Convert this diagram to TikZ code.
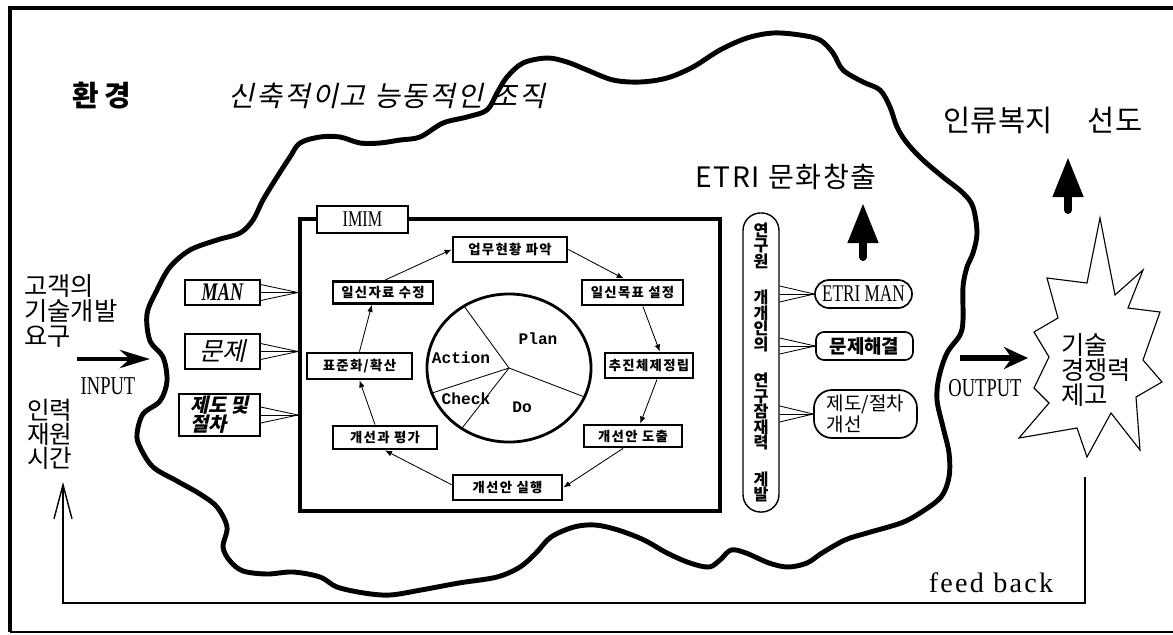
\documentclass[tikz,border=0pt]{standalone}
\usepackage{fontspec}
\setmainfont{Noto Sans CJK KR}
\newfontfamily\krslant{Noto Sans CJK KR}[FakeSlant=0.22]
\newfontfamily\condserif{Liberation Serif}[FakeStretch=0.72]
\newfontfamily\serifwide{Liberation Serif}
\newfontfamily\monofont{Liberation Mono}
\usetikzlibrary{arrows.meta,shapes.geometric}
\newcommand{\fanout}[2]{\foreach \dy in {-8,0,8} {\draw[line width=0.6pt] ([yshift=\dy*0.025cm]#1) -- (#2);}}

\begin{document}
\begin{tikzpicture}[x=0.025cm, y=-0.025cm,
    pdca/.style={draw, line width=2pt, inner sep=0pt, font=\fontsize{9.5}{10}\selectfont\bfseries\addfontfeature{LetterSpace=10}},
    inbox/.style={draw, line width=1pt, inner sep=0pt},
    outbox/.style={draw, line width=1.2pt, inner sep=0pt},
    pdcaword/.style={font=\monofont\bfseries\fontsize{11.5}{12}\selectfont},
    flow/.style={line width=0.6pt, -{Latex[length=5pt,width=4pt]}},
    bigup/.style={line width=0.2cm, line cap=round, -{Triangle[length=1cm,width=0.72cm]}}]
  \useasboundingbox (0,0) rectangle (1173,634);
  \draw[line width=2.8pt] (1173,8) -- (10,8) -- (10,632);
  \draw[line width=1.6pt] (10,632) -- (1173,632);
  \draw[line width=3.5pt] plot[smooth cycle, tension=0.55] coordinates {
    (230,561) (223,547) (227,527) (217,507) (200,494) (177,481) (153,467) (140,447)
    (137,434) (143,414) (160,401) (167,381) (163,357) (150,341) (147,314) (157,290)
    (170,267) (190,250) (217,240) (240,233) (253,220) (263,200) (277,177) (290,157)
    (300,143) (320,137) (340,137) (360,143) (380,143) (400,140) (420,137) (443,123)
    (467,117) (487,110) (497,93) (507,77) (523,63) (547,58) (567,62) (587,70)
    (613,80) (640,82) (667,78) (693,67) (720,50) (747,38) (773,33) (800,35)
    (820,40) (833,53) (843,70) (863,82) (880,90) (890,107) (897,127) (907,143)
    (923,160) (943,177) (963,193) (973,207) (977,233) (973,253) (967,267) (963,287)
    (963,320) (960,335) (947,353) (939,377) (937,400) (943,427) (949,453) (949,477)
    (941,497) (920,513) (901,523) (867,533) (845,540) (822,553) (807,563) (788,567)
    (769,563) (746,553) (731,550) (720,560) (709,567) (690,563) (667,553) (644,540)
    (618,530) (595,525) (574,527) (551,537) (536,553) (520,567) (497,577) (459,583)
    (421,590) (390,595) (364,593) (337,587) (320,577) (293,572) (267,574) (243,571)};

  \node[font=\fontsize{20.5}{22}\selectfont\bfseries\addfontfeature{LetterSpace=20}] (env) at (102,96) {환경};
  \node[font=\krslant\fontsize{20}{22}\selectfont\addfontfeature{LetterSpace=7}] (org) at (387,96) {신축적이고 능동적인 조직};
  \node[font=\fontsize{18}{18}\selectfont, align=left, anchor=west, inner sep=0pt] (demand) at (24,311) {고객의\\기술개발\\요구};
  \node[font=\fontsize{17.5}{17}\selectfont, align=left, anchor=west, inner sep=0pt] (resource) at (27,434) {인력\\재원\\시간};
  \node[font=\condserif\fontsize{18.3}{20}\selectfont] (inlabel) at (108,386) {INPUT};
  \node[font=\condserif\fontsize{18.3}{20}\selectfont] (outlabel) at (985,388) {OUTPUT};
  \node[font=\fontsize{21}{22}\selectfont] (welfare) at (1043,120) {인류복지\hspace{1.2em}선도};
  \node[font=\fontsize{20}{21}\selectfont\addfontfeature{LetterSpace=6}] (culture) at (786,177) {ETRI 문화창출};
  \node[font=\serifwide\fontsize{20}{22}\selectfont\addfontfeature{LetterSpace=8}] (fbtext) at (991,583) {feed back};

  \node[draw, line width=2.8pt, minimum width=10.5cm, minimum height=7.3cm] (imim) at (510,365) {};
  \node[draw, fill=white, line width=0.8pt, minimum width=2.275cm, minimum height=0.675cm, font=\condserif\fontsize{16}{18}\selectfont] (imimtag) at (362.5,219.5) {IMIM};

  \node[inbox, minimum width=1.875cm, minimum height=0.625cm, font=\condserif\bfseries\itshape\fontsize{18}{20}\selectfont] (man) at (222.5,292.5) {MAN};
  \node[inbox, minimum width=1.875cm, minimum height=0.875cm, font=\krslant\fontsize{18}{20}\selectfont] (problem) at (222.5,351.5) {문제};
  \node[inbox, minimum width=2.025cm, minimum height=1.05cm, align=left, font=\krslant\bfseries\fontsize{14}{13.5}\selectfont] (rules) at (219.5,415) {제도 및\\절차};
  \fanout{man.east}{imim.west |- man.east}
  \fanout{problem.east}{imim.west |- problem.east}
  \fanout{rules.east}{imim.west |- rules.east}

  \node[pdca, minimum width=2.5cm, minimum height=0.55cm] (revise) at (383,292.5) {일신자료 수정};
  \node[pdca, minimum width=2.85cm, minimum height=0.625cm] (status) at (510,249.5) {업무현황 파악};
  \node[pdca, minimum width=2.525cm, minimum height=0.625cm] (goal) at (632.5,292.5) {일신목표 설정};
  \node[pdca, minimum width=2.2cm, minimum height=0.625cm] (push) at (649,365.5) {추진체제정립};
  \node[pdca, minimum width=2.45cm, minimum height=0.55cm] (derive) at (633,436) {개선안 도출};
  \node[pdca, minimum width=2.725cm, minimum height=0.625cm] (execute) at (507.5,487.5) {개선안 실행};
  \node[pdca, minimum width=2.6cm, minimum height=0.575cm] (evaluate) at (385,437.5) {개선과 평가};
  \node[pdca, minimum width=2.625cm, minimum height=0.65cm] (spread) at (359.5,366) {표준화/확산};
  \draw[flow] ([xshift=0.05cm]revise.north) -- (status.west);
  \draw[flow] (status.east) -- ([xshift=-0.22cm]goal.north);
  \draw[flow] ([xshift=0.26cm]goal.south) -- ([xshift=0.27cm]push.north);
  \draw[flow] ([xshift=0.2cm]push.south) -- ([xshift=0.18cm]derive.north);
  \draw[flow] ([xshift=-0.25cm]derive.south) -- (execute.east);
  \draw[flow] ([yshift=0.07cm]execute.west) -- (evaluate.south);
  \draw[flow] ([xshift=-0.25cm]evaluate.north) -- (spread.south);
  \draw[flow] (spread.north) -- ([xshift=-0.28cm]revise.south);

  \node[ellipse, draw, line width=2pt, minimum width=4.1cm, minimum height=3.7cm, inner sep=0pt] (wheel) at (509,368) {};
  \foreach \a in {126.7,-21.7,232.5,198.7} {\draw[line width=0.6pt] (wheel.center) -- (wheel.\a);}
  \node[pdcaword] (plan) at (538,339) {Plan};
  \node[pdcaword] (action) at (461,358) {Action};
  \node[pdcaword] (check) at (466,399) {Check};
  \node[pdcaword] (do) at (522,407) {Do};

  \node[draw, line width=1pt, rounded corners=0.44cm, minimum width=0.9cm, minimum height=7.475cm, inner sep=0pt, align=center, font=\fontsize{11.5}{11}\selectfont\bfseries] (researcher) at (761,362.5)
    {연\\구\\원\\[15pt]개\\개\\인\\의\\[15pt]연\\구\\잠\\재\\력\\[15pt]계\\발};
  \node[outbox, rounded corners=0.35cm, minimum width=2.425cm, minimum height=0.7cm, font=\condserif\fontsize{17}{18}\selectfont] (etriman) at (863.5,294) {ETRI MAN};
  \node[outbox, rounded corners=0.2cm, minimum width=2.425cm, minimum height=0.7cm, font=\fontsize{13.5}{14}\selectfont\bfseries] (solve) at (864.5,346) {문제해결};
  \node[outbox, rounded corners=0.45cm, minimum width=2.575cm, minimum height=1.2cm, align=left, font=\fontsize{13.5}{15}\selectfont] (improve) at (865.5,414) {제도/절차\\개선};
  \fanout{researcher.east |- etriman.west}{etriman.west}
  \fanout{researcher.east |- solve.west}{solve.west}
  \fanout{researcher.east |- improve.west}{improve.west}

  \draw[line width=0.8pt] (1047,278) -- (1087,283) -- (1100,218) -- (1115,295) -- (1143,270) -- (1128,308) -- (1160,312) -- (1143,360) -- (1162,382) -- (1136,397) -- (1140,450) -- (1111,413) -- (1087,457) -- (1077,428) -- (1019,438) -- (1049,403) -- (1034,388) -- (1049,357) -- (1034,332) -- (1058,318) -- cycle;
  \node[font=\fontsize{18}{17.8}\selectfont, align=left] (compete) at (1096,370) {기술\\경쟁력\\제고};

  \coordinate (inbeg) at (77,359);
  \coordinate (inend) at (150,359);
  \draw[line width=3.5pt, -{Stealth[length=0.75cm,width=0.45cm]}] (inbeg) -- (inend);
  \coordinate (outbeg) at (960,358);
  \coordinate (outend) at (1028,358);
  \draw[line width=4pt, -{Stealth[length=0.6cm,width=0.55cm]}] (outbeg) -- (outend);
  \coordinate (rise1) at (863,257);
  \coordinate (peak1) at (863,203);
  \draw[bigup] (rise1) -- (peak1);
  \coordinate (rise2) at (1068,210);
  \coordinate (peak2) at (1068,157);
  \draw[bigup] (rise2) -- (peak2);
  \coordinate (fbtop) at (1085,477);
  \coordinate (fbbase) at (0,603);
  \coordinate (fbend) at (63,482);
  \draw[line width=1pt, -{Straight Barb[length=0.85cm,width=0.45cm]}] (fbtop) -- (fbtop |- fbbase) -- (fbend |- fbbase) -- (fbend);
\end{tikzpicture}
\end{document}
